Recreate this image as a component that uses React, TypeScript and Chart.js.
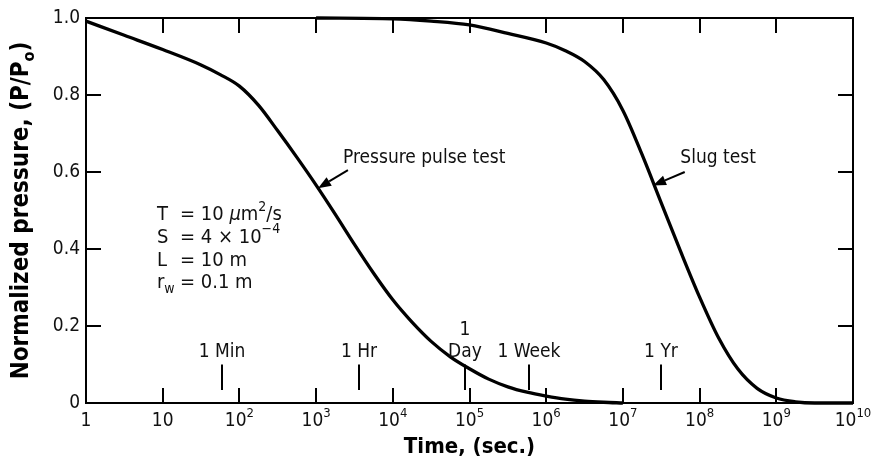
import React, { useEffect, useRef } from "react";
import { Chart, registerables } from "chart.js";

Chart.register(...registerables);

// ---------- data ----------
const X_TICKS = [1, 10, 1e2, 1e3, 1e4, 1e5, 1e6, 1e7, 1e8, 1e9, 1e10];
const Y_TICKS = [0, 0.2, 0.4, 0.6, 0.8, 1.0];

const pulseTimes = [1, 3.16, 10, 31.6, 56.2, 100, 178, 316, 562, 1000, 1780, 3160, 5620, 1e4, 1.78e4, 3.16e4, 5.62e4, 1e5, 1.78e5, 3.16e5, 5.62e5, 1e6, 1.78e6, 3.16e6, 5.62e6, 1e7];
const pulseValues = [0.992, 0.955, 0.918, 0.878, 0.853, 0.823, 0.773, 0.707, 0.638, 0.566, 0.49, 0.412, 0.337, 0.268, 0.21, 0.16, 0.12, 0.089, 0.062, 0.042, 0.028, 0.018, 0.01, 0.005, 0.002, 0];

const slugTimes = [1000, 1e4, 3.16e4, 1e5, 3.16e5, 1e6, 1.78e6, 3.16e6, 5.62e6, 1e7, 1.78e7, 3.16e7, 5.62e7, 1e8, 1.78e8, 3.16e8, 5.62e8, 1e9, 1.78e9, 3.16e9, 1e10];
const slugValues = [1.0, 0.998, 0.992, 0.982, 0.96, 0.935, 0.915, 0.887, 0.84, 0.76, 0.645, 0.52, 0.395, 0.275, 0.168, 0.088, 0.038, 0.013, 0.003, 0, 0];

const eventTimes = [60, 3600, 86400, 604800, 31557600];
const eventLabels = [["1 Min"], ["1 Hr"], ["1", "Day"], ["1 Week"], ["1 Yr"]];

const curveNames = ["Pressure pulse test", "Slug test"];
// label anchor (time, value), arrow tail (time, value), arrow tip (time, value)
const curveLabelAt = [[2240, 0.636], [5.6e7, 0.636]];
const curveArrowFrom = [[2600, 0.605], [6.4e7, 0.6]];
const curveArrowTo = [[1060, 0.558], [2.47e7, 0.565]];

type Part = { t: string; sup?: boolean; sub?: boolean; italic?: boolean };
const paramNames: Part[][] = [
  [{ t: "T" }],
  [{ t: "S" }],
  [{ t: "L" }],
  [{ t: "r" }, { t: "w", sub: true }],
];
const paramValues: Part[][] = [
  [{ t: "= 10 " }, { t: "μ", italic: true }, { t: "m" }, { t: "2", sup: true }, { t: "/s" }],
  [{ t: "= 4 × 10" }, { t: "−4", sup: true }],
  [{ t: "= 10 m" }],
  [{ t: "= 0.1 m" }],
];
const paramRowValues = [0.488, 0.43, 0.37, 0.312];
const paramNameTime = 8.4;
const paramValueTime = 16.8;

// ---------- styles ----------
const FONT = '"DejaVu Sans Condensed", "DejaVu Sans", sans-serif';
const INK = "#111";

function fontOf(size: number, p: Part, bold: boolean) {
  const s = p.sup || p.sub ? Math.round(size * 0.68) : size;
  return `${p.italic ? "italic " : ""}${bold ? "bold " : ""}${s}px ${FONT}`;
}
function richWidth(ctx: CanvasRenderingContext2D, parts: Part[], size: number, bold: boolean) {
  let w = 0;
  for (const p of parts) {
    ctx.font = fontOf(size, p, bold);
    w += ctx.measureText(p.t).width;
  }
  return w;
}
function drawRich(ctx: CanvasRenderingContext2D, parts: Part[], x: number, y: number, size: number, align: "left" | "center", bold = false) {
  const w = richWidth(ctx, parts, size, bold);
  let cx = align === "center" ? x - w / 2 : x;
  ctx.textAlign = "left";
  ctx.textBaseline = "middle";
  for (const p of parts) {
    ctx.font = fontOf(size, p, bold);
    const dy = p.sup ? -size * 0.38 : p.sub ? size * 0.32 : 0;
    ctx.fillText(p.t, cx, y + dy);
    cx += ctx.measureText(p.t).width;
  }
}

const decorPlugin = {
  id: "decor",
  afterDraw(chart: any) {
    const { ctx, chartArea, scales } = chart;
    const { left, right, top, bottom } = chartArea;
    const xs = scales.x;
    const ys = scales.y;
    ctx.save();
    // frame
    ctx.strokeStyle = "#000";
    ctx.lineWidth = 2;
    ctx.strokeRect(left, top, right - left, bottom - top);
    // inward ticks on all four sides
    const TL = 15;
    ctx.beginPath();
    for (const v of X_TICKS) {
      const px = Math.round(xs.getPixelForValue(v));
      ctx.moveTo(px, bottom);
      ctx.lineTo(px, bottom - TL);
      ctx.moveTo(px, top);
      ctx.lineTo(px, top + TL);
    }
    for (const v of Y_TICKS) {
      const py = Math.round(ys.getPixelForValue(v));
      ctx.moveTo(left, py);
      ctx.lineTo(left + TL, py);
      ctx.moveTo(right, py);
      ctx.lineTo(right - TL, py);
    }
    ctx.stroke();

    // x tick labels with superscript exponents
    ctx.fillStyle = INK;
    for (const v of X_TICKS) {
      const k = Math.round(Math.log10(v));
      const parts: Part[] = k === 0 ? [{ t: "1" }] : k === 1 ? [{ t: "10" }] : [{ t: "10" }, { t: String(k), sup: true }];
      drawRich(ctx, parts, xs.getPixelForValue(v), bottom + 18, 19, "center");
    }

    // axis titles
    ctx.fillStyle = "#000";
    drawRich(ctx, [{ t: "Time, (sec.)" }], (left + right) / 2, 447, 22, "center", true);
    ctx.save();
    ctx.translate(22, (top + bottom) / 2);
    ctx.rotate(-Math.PI / 2);
    drawRich(ctx, [{ t: "Normalized pressure, (P/P" }, { t: "o", sub: true }, { t: ")" }], 0, 0, 24, "center", true);
    ctx.restore();

    // time markers
    ctx.strokeStyle = "#000";
    ctx.lineWidth = 2;
    ctx.fillStyle = INK;
    eventTimes.forEach((t, i) => {
      const px = Math.round(xs.getPixelForValue(t));
      ctx.beginPath();
      ctx.moveTo(px, ys.getPixelForValue(0.034));
      ctx.lineTo(px, ys.getPixelForValue(0.1));
      ctx.stroke();
      const lines = eventLabels[i];
      const baseY = ys.getPixelForValue(0.132);
      lines.forEach((ln, j) => {
        const y = baseY - (lines.length - 1 - j) * 22;
        drawRich(ctx, [{ t: ln }], px, y, 19, "center");
      });
    });

    // curve labels with arrows
    curveNames.forEach((name, i) => {
      ctx.fillStyle = INK;
      drawRich(ctx, [{ t: name }], xs.getPixelForValue(curveLabelAt[i][0]), ys.getPixelForValue(curveLabelAt[i][1]), 19, "left");
      const x1 = xs.getPixelForValue(curveArrowFrom[i][0]);
      const y1 = ys.getPixelForValue(curveArrowFrom[i][1]);
      const x2 = xs.getPixelForValue(curveArrowTo[i][0]);
      const y2 = ys.getPixelForValue(curveArrowTo[i][1]);
      const ang = Math.atan2(y2 - y1, x2 - x1);
      const hl = 13;
      const hw = 5;
      const bx = x2 - hl * Math.cos(ang);
      const by = y2 - hl * Math.sin(ang);
      ctx.strokeStyle = "#000";
      ctx.lineWidth = 2;
      ctx.beginPath();
      ctx.moveTo(x1, y1);
      ctx.lineTo(bx, by);
      ctx.stroke();
      ctx.fillStyle = "#000";
      ctx.beginPath();
      ctx.moveTo(x2, y2);
      ctx.lineTo(bx + hw * Math.sin(ang), by - hw * Math.cos(ang));
      ctx.lineTo(bx - hw * Math.sin(ang), by + hw * Math.cos(ang));
      ctx.closePath();
      ctx.fill();
    });

    // parameter block
    ctx.fillStyle = INK;
    paramRowValues.forEach((v, i) => {
      const py = ys.getPixelForValue(v);
      drawRich(ctx, paramNames[i], xs.getPixelForValue(paramNameTime), py, 20, "left");
      drawRich(ctx, paramValues[i], xs.getPixelForValue(paramValueTime), py, 20, "left");
    });
    ctx.restore();
  },
};

export default function App() {
  const ref = useRef<HTMLCanvasElement>(null);
  useEffect(() => {
    document.body.style.margin = "0";
    const canvas = ref.current!;
    const common = {
      borderColor: "#000",
      borderWidth: 3.3,
      pointRadius: 0,
      cubicInterpolationMode: "monotone",
      fill: false,
      clip: 6,
    };
    const chart = new Chart(canvas, {
      type: "line",
      data: {
        datasets: [
          { label: curveNames[0], data: pulseTimes.map((t, i) => ({ x: t, y: pulseValues[i] })), ...common },
          { label: curveNames[1], data: slugTimes.map((t, i) => ({ x: t, y: slugValues[i] })), ...common },
        ],
      },
      options: {
        responsive: false,
        animation: false,
        layout: { padding: { top: 18, right: 19, left: 0, bottom: 0 } },
        plugins: { legend: { display: false }, tooltip: { enabled: false }, title: { display: false } },
        scales: {
          x: {
            type: "logarithmic",
            min: 1,
            max: 1e10,
            grid: { display: false, drawTicks: false },
            border: { display: false },
            ticks: { display: false },
            afterFit: (s: any) => {
              s.height = 63;
            },
          },
          y: {
            type: "linear",
            min: 0,
            max: 1,
            grid: { display: false, drawTicks: false },
            border: { display: false },
            afterBuildTicks: (s: any) => {
              s.ticks = Y_TICKS.map((v) => ({ value: v }));
            },
            ticks: {
              padding: 6,
              color: INK,
              font: { family: FONT, size: 19 },
              callback: (v: any) => (Number(v) === 0 ? "0" : Number(v).toFixed(1)),
            },
            afterFit: (s: any) => {
              s.width = 86;
            },
          },
        },
      },
      plugins: [decorPlugin],
    } as any);
    return () => chart.destroy();
  }, []);
  return (
    <div style={{ position: "absolute", left: 0, top: 0, width: 872, height: 466, background: "#fff" }}>
      <canvas ref={ref} width={872} height={466} />
    </div>
  );
}
